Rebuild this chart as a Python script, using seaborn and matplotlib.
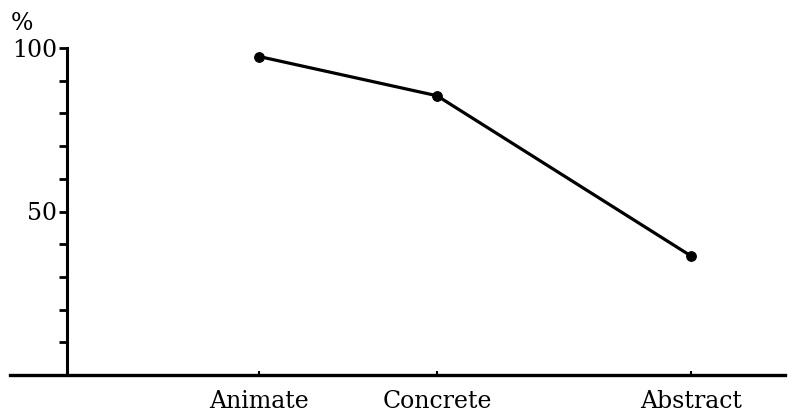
import numpy as np
import seaborn as sns
import matplotlib.pyplot as plt
import pandas as pd

# data
categories = ["Animate", "Concrete", "Abstract"]
percent = [97.4, 85.4, 36.4]
# where each category sits along the horizontal axis (uneven in the original)
cat_pos = [1.92, 3.70, 6.24]

df = pd.DataFrame({"category": categories, "x": cat_pos, "percent": percent})

sns.set_style("white")
plt.rcParams["font.family"] = ["DejaVu Serif"]
plt.rcParams["text.color"] = "black"
plt.rcParams["xtick.color"] = "black"
plt.rcParams["ytick.color"] = "black"

fig = plt.figure(figsize=(7.92, 4.16), dpi=100)
ax = fig.add_axes([10 / 792, 1 - 375 / 416, 775 / 792, 327 / 416])

sns.lineplot(data=df, x="x", y="percent", color="black", linewidth=2.3,
             marker="o", markersize=7, markeredgecolor="black", ax=ax)

ax.set_xlim(-0.57, 7.18)
ax.set_ylim(0, 100)

# y axis stands inside the plot area, x axis runs out past it on the left
ax.spines["left"].set_position(("data", 0))
ax.spines["left"].set_bounds(0, 100)
ax.spines["left"].set_linewidth(2.2)
ax.spines["bottom"].set_linewidth(2.4)
ax.spines["left"].set_color("black")
ax.spines["bottom"].set_color("black")
for s in ["top", "right"]:
    ax.spines[s].set_visible(False)

ax.set_yticks(np.arange(10, 101, 10))
ax.set_yticklabels(["" if v not in (50, 100) else str(v) for v in range(10, 101, 10)])
ax.tick_params(axis="y", left=True, direction="out", length=6, width=2,
               labelsize=17, pad=1, labelcolor="black")

ax.set_xticks(cat_pos)
ax.set_xticklabels(categories)
ax.tick_params(axis="x", bottom=True, direction="in", length=3, width=1.5,
               labelsize=17, pad=11, labelcolor="black")

ax.set_xlabel("")
ax.set_ylabel("")
fig.text(22 / 792, 1 - 23 / 416, "%", fontsize=17, ha="center", va="center")

fig.savefig("out.png", dpi=100)
